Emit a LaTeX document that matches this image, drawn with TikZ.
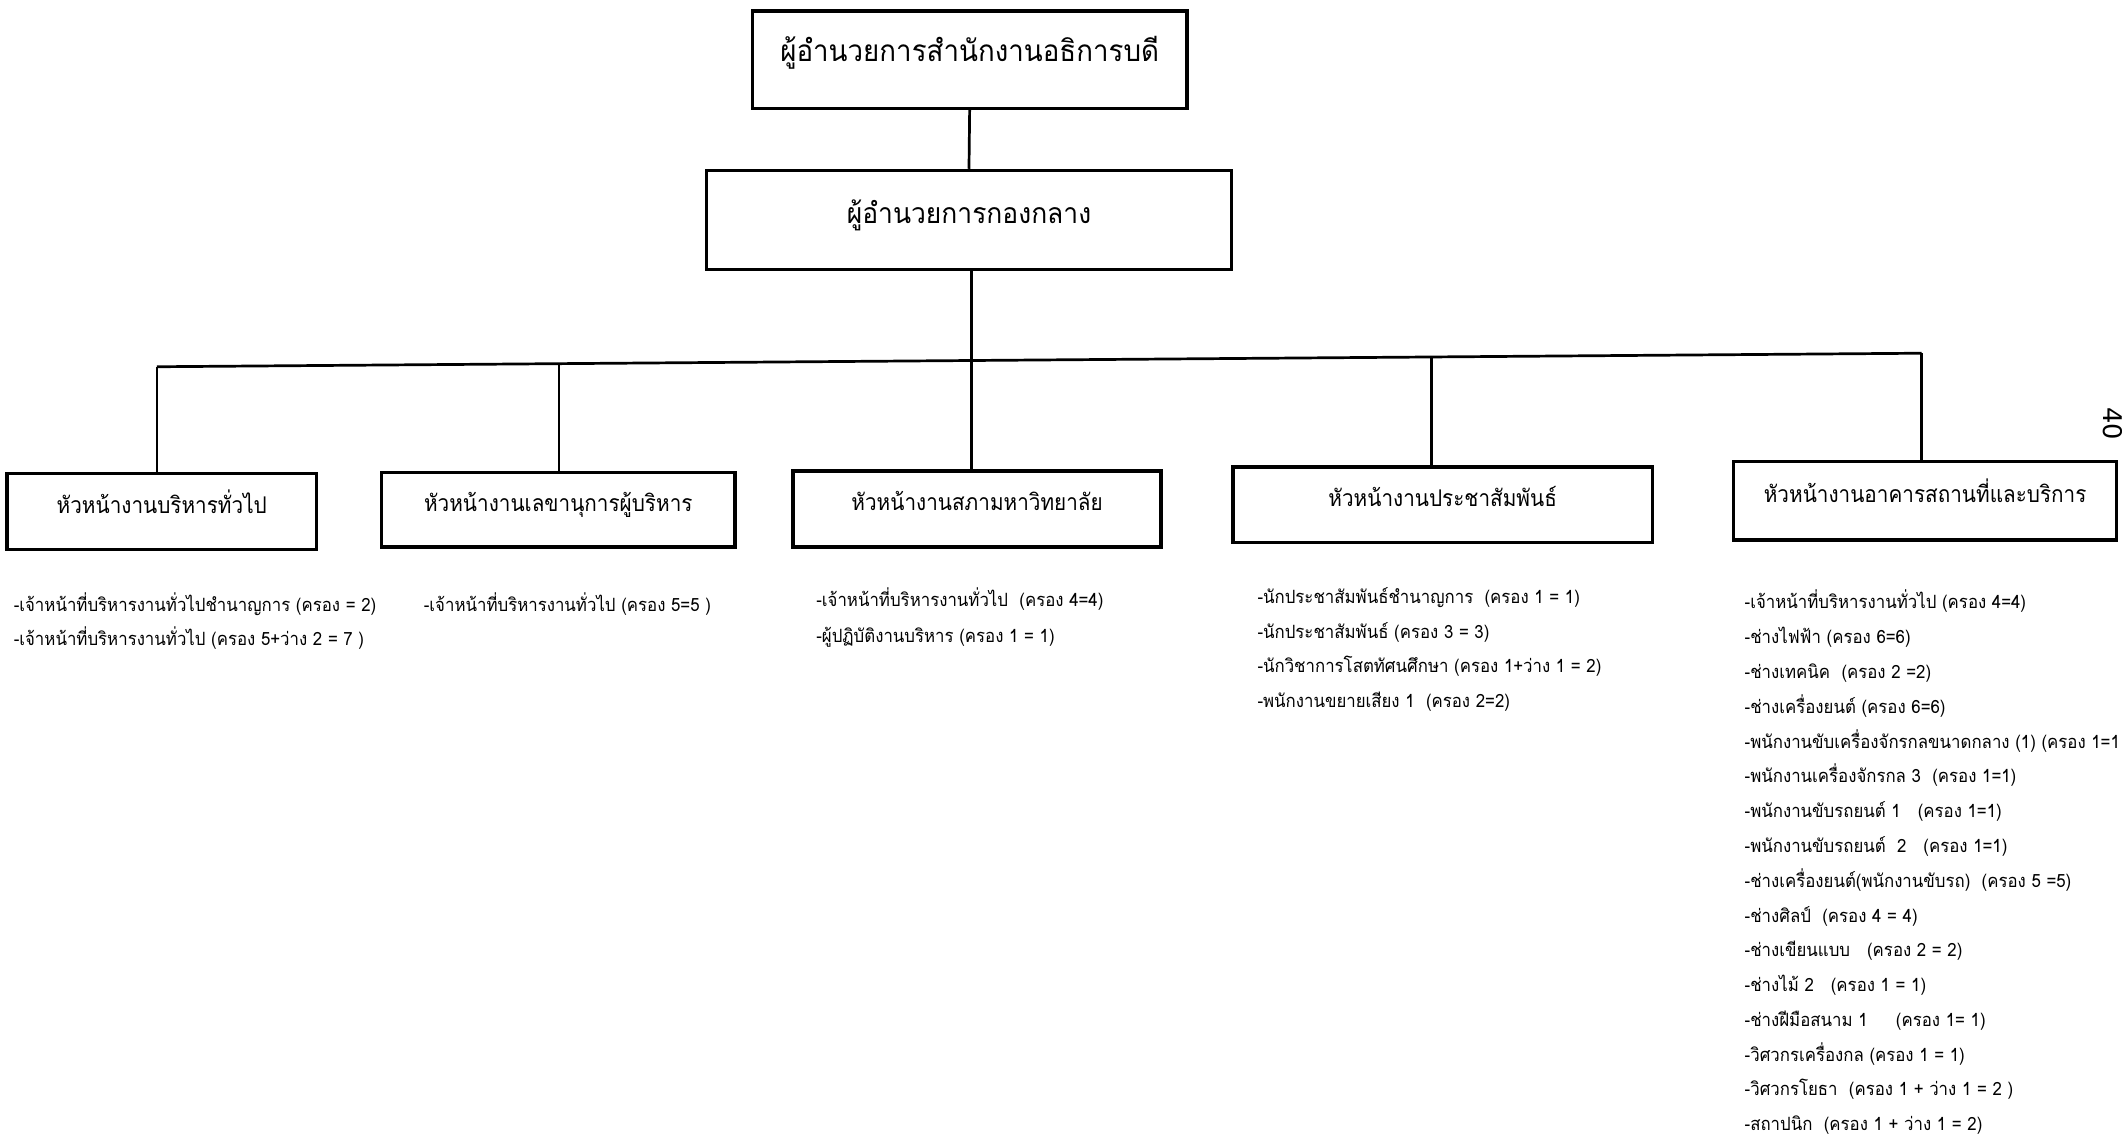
\documentclass[tikz,border=0pt]{standalone}
\usepackage{fontspec}
\setmainfont[Script=Thai]{Loma}
\newfontfamily\titlefont[Script=Thai, FakeStretch=0.93]{Loma}
\newfontfamily\deptfont[Script=Thai, FakeStretch=0.9]{Loma}
\newfontfamily\listfont[Script=Thai, FakeStretch=0.92]{Loma}
\newfontfamily\pagefont{DejaVu Sans}
\begin{document}
\begin{tikzpicture}[x=1pt,y=-1pt,
  box/.style={draw, line width=2.6pt, inner sep=0pt, align=center},
  wire/.style={line width=2pt},
  item/.style={anchor=base west, inner sep=0pt, font=\listfont\fontsize{13.5}{15}\selectfont}]
\fill[white] (0,0) rectangle (1568,840);
\useasboundingbox (0,0) rectangle (1568,840);

% top levels
\node[box, minimum width=321pt, minimum height=72pt, text height=14pt, text depth=11pt, font=\titlefont\fontsize{22}{26}\selectfont] (top) at (716.5,44) {ผู้อำนวยการสำนักงานอธิการบดี};
\node[box, minimum width=388pt, minimum height=73pt, text height=14pt, text depth=9pt, font=\titlefont\fontsize{21}{25}\selectfont] (mid) at (716,162.5) {ผู้อำนวยการกองกลาง};

% department boxes
\tikzset{dept/.style={box, text height=13pt, text depth=10pt, font=\deptfont\fontsize{17}{20}\selectfont}}
\node[dept, minimum width=229pt, minimum height=56pt] (d1) at (119.5,378) {หัวหน้างานบริหารทั่วไป};
\node[dept, minimum width=261pt, minimum height=55pt] (d2) at (412.5,376.5) {หัวหน้างานเลขานุการผู้บริหาร};
\node[dept, minimum width=272pt, minimum height=56pt] (d3) at (722,376) {หัวหน้างานสภามหาวิทยาลัย};
\node[dept, minimum width=310pt, minimum height=56pt] (d4) at (1066,373) {หัวหน้างานประชาสัมพันธ์};
\node[dept, minimum width=283pt, minimum height=58pt] (d5) at (1422.5,370) {หัวหน้างานอาคารสถานที่และบริการ};

% bus coordinates
\coordinate (b1) at (116,271);
\coordinate (b2) at (413,268.7);
\coordinate (b3) at (718,266.4);
\coordinate (b4) at (1058,263.8);
\coordinate (b5) at (1420,261);

\draw[wire] (top.south) -- (mid.north);
\draw[wire] (mid.south -| b3) -- (b3);
\draw[wire] (b1) -- (b5);
\draw[wire] (b1) -- (b1 |- d1.north);
\draw[wire] (b2) -- (b2 |- d2.north);
\draw[wire] (b3) -- (b3 |- d3.north);
\draw[wire] (b4) -- (b4 |- d4.north);
\draw[wire] (b5) -- (b5 |- d5.north);

% lists
\node[item] (a1) at (10,452) {-เจ้าหน้าที่บริหารงานทั่วไปชำนาญการ (ครอง = 2)};
\node[item] (a2) at (10,477) {-เจ้าหน้าที่บริหารงานทั่วไป (ครอง 5+ว่าง 2 = 7 )};

\node[item] (c1) at (313,452) {-เจ้าหน้าที่บริหารงานทั่วไป (ครอง 5=5 )};

\node[item] (e1) at (603,448) {-เจ้าหน้าที่บริหารงานทั่วไป\ \ (ครอง 4=4)};
\node[item] (e2) at (603,475) {-ผู้ปฏิบัติงานบริหาร (ครอง 1 = 1)};

\node[item] (f1) at (929,446) {-นักประชาสัมพันธ์ชำนาญการ\ \ (ครอง 1 = 1)};
\node[item] (f2) at (929,472) {-นักประชาสัมพันธ์ (ครอง 3 = 3)};
\node[item] (f3) at (929,497) {-นักวิชาการโสตทัศนศึกษา (ครอง 1+ว่าง 1 = 2)};
\node[item] (f4) at (929,523) {-พนักงานขยายเสียง 1\ \ (ครอง 2=2)};

\foreach \t [count=\i] in {
 {-เจ้าหน้าที่บริหารงานทั่วไป (ครอง 4=4)},
 {-ช่างไฟฟ้า (ครอง 6=6)},
 {-ช่างเทคนิค\ \ (ครอง 2 =2)},
 {-ช่างเครื่องยนต์ (ครอง 6=6)},
 {-พนักงานขับเครื่องจักรกลขนาดกลาง (1) (ครอง 1=1},
 {-พนักงานเครื่องจักรกล 3\ \ (ครอง 1=1)},
 {-พนักงานขับรถยนต์ 1\ \ \ (ครอง 1=1)},
 {-พนักงานขับรถยนต์\ \ 2\ \ \ (ครอง 1=1)},
 {-ช่างเครื่องยนต์(พนักงานขับรถ)\ \ (ครอง 5 =5)},
 {-ช่างศิลป์\ \ (ครอง 4 = 4)},
 {-ช่างเขียนแบบ\ \ \ (ครอง 2 = 2)},
 {-ช่างไม้ 2\ \ \ (ครอง 1 = 1)},
 {-ช่างฝีมือสนาม 1\ \ \ \ \ (ครอง 1= 1)},
 {-วิศวกรเครื่องกล (ครอง 1 = 1)},
 {-วิศวกรโยธา\ \ (ครอง 1 + ว่าง 1 = 2 )},
 {-สถาปนิก\ \ (ครอง 1 + ว่าง 1 = 2)}}
 \node[item] (g\i) at (1289,{450+25.7*(\i-1)}) {\t};

% page number
\node[rotate=-90, inner sep=0pt, font=\pagefont\fontsize{19}{22}\selectfont] (pg) at (1561,313) {40};
\end{tikzpicture}
\end{document}
